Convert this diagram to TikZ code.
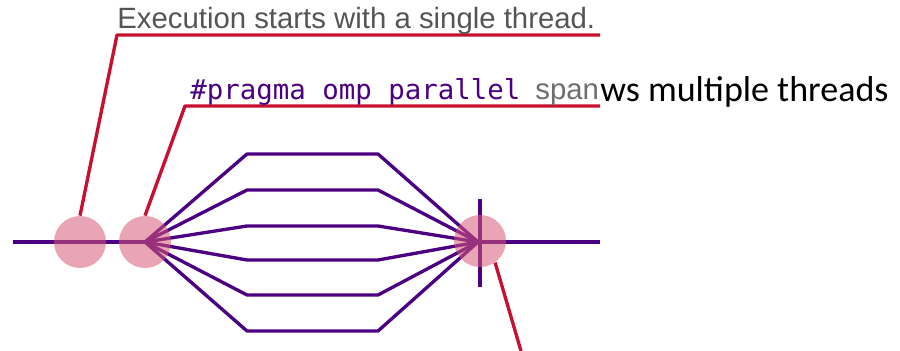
\documentclass[tikz,border=0pt]{standalone}
\usepackage{fontspec}
\usepackage{xcolor}
\newfontfamily\notefont{Liberation Sans}
\newfontfamily\codefont{DejaVu Sans Mono}
\newfontfamily\slidefont{Carlito}
\definecolor{threadcol}{RGB}{75,0,130}
\definecolor{calloutcol}{RGB}{200,16,46}
\definecolor{markcol}{RGB}{215,90,120}
\definecolor{notegray}{RGB}{85,85,85}
\usetikzlibrary{positioning,calc}

\begin{document}
\begin{tikzpicture}[
  x=0.02cm, y=-0.02cm,
  thread/.style={draw=threadcol, line width=1.9pt, line join=round},
  callout/.style={draw=calloutcol, line width=1.9pt, line join=round},
  marker/.style={circle, fill=markcol, fill opacity=0.55, minimum size=1.04cm, inner sep=0pt},
  notetext/.style={anchor=base west, inner sep=0pt}
]
\useasboundingbox (0,0) rectangle (900,351);

% fork and join points of the team
\coordinate (in) at (13,242);
\coordinate (out) at (600,242);
\coordinate (fork) at (145,242);
\coordinate (join) at (478,242);

\draw[thread] (in) -- (fork);
\draw[thread] (join) -- (out);
\foreach \ty in {154,190,226,260,295,331}
  \draw[thread] (fork) -- (247,\ty) -- (378,\ty) -- (join);

\coordinate (bartop) at (480,199);
\coordinate (barbot) at (480,287);
\draw[thread] (bartop) -- (barbot);

% pink markers
\node[marker] (startdot) at (80,242) {};
\node[marker] (forkdot) at (fork) {};
\node[marker] (joindot) at (480,241) {};

% callouts
\coordinate (execbend) at (117,35);
\coordinate (execend) at (600,35);
\coordinate (forkbend) at (185,106);
\coordinate (forkend) at (600,106);
\coordinate (joinend) at (521,351);
\draw[callout] (startdot.north) -- (execbend) -- (execend);
\draw[callout] (forkdot.north) -- (forkbend) -- (forkend);
\draw[callout] (joindot.-55) -- (joinend);

\node[notetext, text=notegray, font=\notefont\fontsize{16.7}{19}\selectfont] (execnote) at (117,29) {Execution starts with a single thread.};
\node[notetext, text=threadcol, font=\codefont\fontsize{15.6}{18}\selectfont] (pragma) at (190,100) {\#pragma omp parallel};
\node[notetext, text=notegray!85, font=\notefont\fontsize{16.7}{19}\selectfont] (span) at (535,100) {span};
\node[notetext, font=\slidefont\fontsize{20.5}{24}\selectfont] (spawns) at (600,102) {ws multiple threads};
\end{tikzpicture}
\end{document}
